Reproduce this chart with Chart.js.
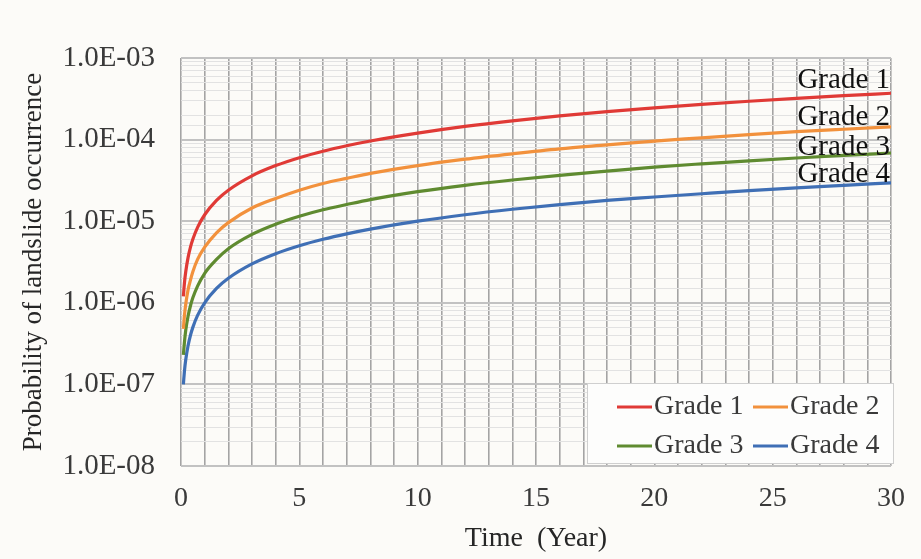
<!DOCTYPE html>
<html lang="en">
<head>
  <meta charset="UTF-8" />
  <title>Landslide occurrence probability</title>
  <script src="https://cdn.jsdelivr.net/npm/chart.js"></script>
  <style>
    body {
      margin: 0;
      background: #fcfbf8;
    }
    #wrap {
      width: 921px;
      height: 559px;
    }
  </style>
</head>
<body>
  <div id="wrap">
    <canvas id="probChart" width="921" height="559"></canvas>
  </div>

  <script>
    // time in years and the probability read for each grade
    const years = [0.1, 0.15, 0.2, 0.3, 0.4, 0.5, 0.7, 1, 1.5, 2, 3, 4, 5, 6, 7, 8, 10, 12, 14, 16, 18, 20, 22, 24, 26, 28, 30];
    const grade1 = [1.2e-6, 1.8e-6, 2.4e-6, 3.6e-6, 4.8e-6, 6.0e-6, 8.4e-6, 1.2e-5, 1.8e-5, 2.4e-5, 3.6e-5, 4.8e-5, 6.0e-5, 7.2e-5, 8.4e-5, 9.6e-5, 1.2e-4, 1.45e-4, 1.7e-4, 1.95e-4, 2.2e-4, 2.45e-4, 2.7e-4, 2.95e-4, 3.2e-4, 3.45e-4, 3.7e-4];
    const grade2 = [4.8e-7, 7.2e-7, 9.6e-7, 1.45e-6, 1.9e-6, 2.4e-6, 3.4e-6, 4.8e-6, 7.2e-6, 9.6e-6, 1.45e-5, 1.9e-5, 2.4e-5, 2.9e-5, 3.35e-5, 3.85e-5, 4.8e-5, 5.75e-5, 6.7e-5, 7.7e-5, 8.6e-5, 9.6e-5, 1.05e-4, 1.15e-4, 1.25e-4, 1.34e-4, 1.43e-4];
    const grade3 = [2.3e-7, 3.4e-7, 4.6e-7, 6.9e-7, 9.2e-7, 1.15e-6, 1.6e-6, 2.3e-6, 3.4e-6, 4.6e-6, 6.9e-6, 9.2e-6, 1.15e-5, 1.38e-5, 1.6e-5, 1.84e-5, 2.3e-5, 2.75e-5, 3.2e-5, 3.65e-5, 4.1e-5, 4.6e-5, 5.05e-5, 5.5e-5, 5.95e-5, 6.4e-5, 6.85e-5];
    const grade4 = [1.0e-7, 1.5e-7, 2.0e-7, 3.0e-7, 4.0e-7, 5.0e-7, 7.0e-7, 1.0e-6, 1.5e-6, 2.0e-6, 3.0e-6, 4.0e-6, 5.0e-6, 6.0e-6, 7.0e-6, 8.0e-6, 1.0e-5, 1.2e-5, 1.4e-5, 1.6e-5, 1.8e-5, 1.98e-5, 2.17e-5, 2.37e-5, 2.56e-5, 2.75e-5, 2.95e-5];

    const seriesNames = ["Grade 1", "Grade 2", "Grade 3", "Grade 4"];
    const seriesValues = [grade1, grade2, grade3, grade4];
    const seriesColors = ["#e03a36", "#f2913c", "#5f8b30", "#3f6fb5"];

    const serif = "'Liberation Serif', 'Times New Roman', serif";

    function isDecade(v) {
      const l = Math.log10(v);
      return Math.abs(l - Math.round(l)) < 1e-6;
    }

    function sciLabel(v) {
      const e = Math.round(Math.log10(v));
      return "1.0E" + (e < 0 ? "-" : "+") + String(Math.abs(e)).padStart(2, "0");
    }

    // grade names written just above the right end of each curve
    const endLabels = {
      id: "endLabels",
      afterDatasetsDraw(chart) {
        const ctx = chart.ctx;
        const lift = [13, 10, 6, 8];
        ctx.save();
        ctx.font = "29px " + serif;
        ctx.fillStyle = "#111";
        ctx.textAlign = "right";
        ctx.textBaseline = "middle";
        chart.data.datasets.forEach((ds, i) => {
          const pts = chart.getDatasetMeta(i).data;
          const last = pts[pts.length - 1];
          ctx.fillText(ds.label, chart.chartArea.right - 1, last.y - lift[i]);
        });
        ctx.restore();
      }
    };

    // two-by-two legend box in the lower right corner of the plot
    const boxLegend = {
      id: "boxLegend",
      afterDraw(chart) {
        const ctx = chart.ctx;
        const box = { x: 587, y: 383, w: 306, h: 80 };
        ctx.save();
        ctx.fillStyle = "#fdfdfc";
        ctx.fillRect(box.x, box.y, box.w, box.h);
        ctx.strokeStyle = "#cfcfcf";
        ctx.lineWidth = 1;
        ctx.strokeRect(box.x + 0.5, box.y + 0.5, box.w, box.h);
        ctx.font = "28px " + serif;
        ctx.textBaseline = "middle";
        ctx.textAlign = "left";
        const cols = [617, 753];
        const rows = [407, 446];
        chart.data.datasets.forEach((ds, i) => {
          const x = cols[i % 2];
          const y = rows[Math.floor(i / 2)];
          ctx.strokeStyle = ds.borderColor;
          ctx.lineWidth = 3;
          ctx.beginPath();
          ctx.moveTo(x, y);
          ctx.lineTo(x + 35, y);
          ctx.stroke();
          ctx.fillStyle = "#3a3a3a";
          ctx.fillText(ds.label, x + 37, y);
        });
        ctx.restore();
      }
    };

    const datasets = seriesNames.map((name, i) => ({
      label: name,
      data: years.map((t, j) => ({ x: t, y: seriesValues[i][j] })),
      borderColor: seriesColors[i],
      backgroundColor: seriesColors[i],
      borderWidth: 3.2,
      pointRadius: 0,
      cubicInterpolationMode: "monotone",
      fill: false
    }));

    new Chart(document.getElementById("probChart"), {
      type: "line",
      data: { datasets },
      options: {
        responsive: false,
        animation: false,
        layout: { padding: { left: 0, top: 58, right: 24, bottom: 0 } },
        plugins: {
          legend: { display: false },
          tooltip: { enabled: false }
        },
        scales: {
          x: {
            type: "linear",
            min: 0,
            max: 30,
            afterFit(scale) { scale.height = 93; },
            border: { display: false },
            grid: { color: "#a4a4a4", lineWidth: 1.6, drawTicks: false },
            ticks: {
              stepSize: 1,
              autoSkip: false,
              maxRotation: 0,
              padding: 16,
              color: "#3a3a3a",
              font: { family: serif, size: 28 },
              callback: v => (v % 5 === 0 ? v : "")
            },
            title: {
              display: true,
              text: "Time  (Year)",
              color: "#262626",
              font: { family: serif, size: 28 },
              padding: { top: 0, bottom: 4 }
            }
          },
          y: {
            type: "logarithmic",
            min: 1e-8,
            max: 1e-3,
            afterFit(scale) { scale.width = 181; },
            border: { display: false },
            grid: {
              drawTicks: false,
              color: c => (isDecade(c.tick.value) ? "#c2c2c2" : "#e2e2e2"),
              lineWidth: c => (isDecade(c.tick.value) ? 2 : 1)
            },
            ticks: {
              autoSkip: false,
              padding: 26,
              color: "#3a3a3a",
              font: { family: serif, size: 29 },
              callback: v => (isDecade(v) ? sciLabel(v) : "")
            },
            title: {
              display: true,
              text: "Probability of landslide occurrence",
              color: "#262626",
              font: { family: serif, size: 27 },
              padding: { top: 18, bottom: 0 }
            }
          }
        }
      },
      plugins: [endLabels, boxLegend]
    });
  </script>
</body>
</html>
